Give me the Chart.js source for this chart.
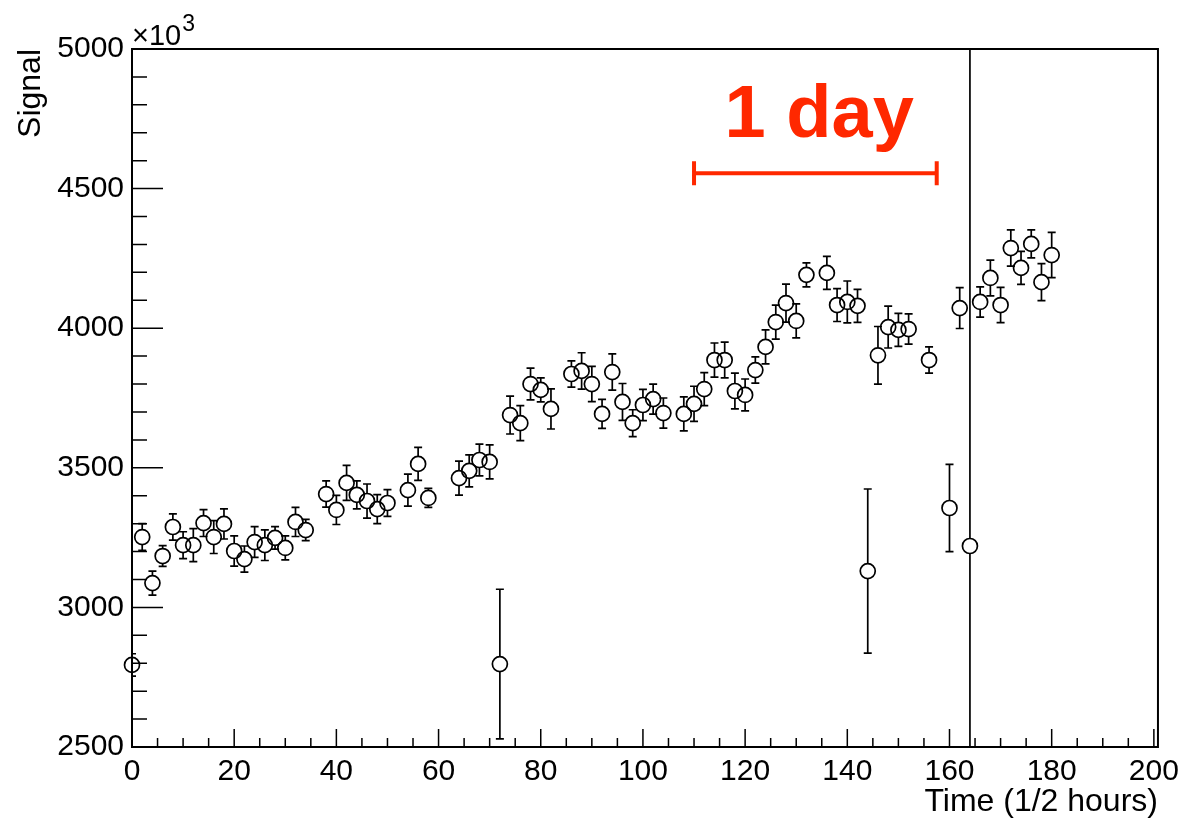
<!DOCTYPE html>
<html>
<head>
<meta charset="utf-8">
<script src="https://cdn.jsdelivr.net/npm/chart.js@4.4.1/dist/chart.umd.min.js"></script>
<style>
  html, body { margin: 0; padding: 0; background: #fff; overflow: hidden; }
  #wrap { width: 1186px; height: 823px; position: relative; }
</style>
</head>
<body>
<div id="wrap"><canvas id="signalChart"></canvas></div>
<script>
// time bins (1/2 hours)
const timeBins = [0, 2, 4, 6, 8, 10, 12, 14, 16, 18, 20, 22, 24, 26, 28, 30, 32, 34,
  38, 40, 42, 44, 46, 48, 50, 54, 56, 58, 64, 66, 68, 70, 72, 74, 76, 78, 80, 82,
  86, 88, 90, 92, 94, 96, 98, 100, 102, 104, 108, 110, 112, 114, 116, 118, 120, 122,
  124, 126, 128, 130, 132, 136, 138, 140, 142, 144, 146, 148, 150, 152, 156, 160,
  162, 164, 166, 168, 170, 172, 174, 176, 178, 180];

// signal (x10^3)
const signalValues = [2794, 3252, 3087, 3184, 3288, 3223, 3223, 3302, 3252, 3299, 3202, 3173, 3234, 3223, 3249, 3213, 3306, 3277,
  3406, 3349, 3446, 3403, 3381, 3352, 3374, 3420, 3514, 3392, 3463, 3489, 3528, 3521, 2797, 3689, 3660, 3800, 3779, 3711,
  3836, 3847, 3800, 3693, 3843, 3736, 3660, 3725, 3746, 3696, 3693, 3729, 3782, 3886, 3886, 3775, 3761, 3850,
  3933, 4022, 4090, 4026, 4191, 4198, 4083, 4094, 4080, 3130, 3903, 4004, 3994, 3997, 3886, 3356,
  4072, 3220, 4094, 4180, 4083, 4287, 4216, 4302, 4165, 4262];

// symmetric errors on the signal
const signalErrors = [40, 48, 43, 37, 47, 48, 59, 48, 59, 54, 54, 47, 55, 55, 40, 43, 52, 38,
  47, 52, 63, 50, 61, 52, 48, 57, 59, 34, 61, 57, 57, 61, 268, 68, 63, 57, 43, 72,
  47, 65, 63, 52, 65, 66, 48, 56, 54, 54, 61, 63, 59, 61, 64, 64, 57, 47,
  61, 61, 68, 61, 43, 59, 59, 75, 59, 294, 103, 75, 59, 54, 47, 156,
  73, 3000, 54, 64, 63, 65, 59, 50, 66, 81];

const xTicks = [0, 20, 40, 60, 80, 100, 120, 140, 160, 180, 200];
const yTicks = [2500, 3000, 3500, 4000, 4500, 5000];
const xMinorStep = 5;
const yMinorStep = 100;

// "1 day" marker: 48 half-hour bins
const dayBarStart = 110;
const dayBarEnd = 157.5;
const dayBarLevel = 4555;
const dayLabel = '1 day';
const dayLabelX = 134.5;
const dayLabelY = 4685;

const red = 'rgb(255, 40, 0)';
const fontFamily = '"Liberation Sans", Arial, Helvetica, sans-serif';

const points = timeBins.map((t, i) => ({ x: t, y: signalValues[i], err: signalErrors[i] }));

const rootStyle = {
  id: 'rootStyle',
  beforeDatasetsDraw(chart) {
    // error bars, stopping at the marker edge
    const { ctx, chartArea: a, scales: { x, y } } = chart;
    const r = 7.5, cap = 4;
    ctx.save();
    ctx.beginPath();
    ctx.rect(a.left, a.top, a.right - a.left, a.bottom - a.top);
    ctx.clip();
    ctx.strokeStyle = '#000';
    ctx.lineWidth = 1.7;
    points.forEach(p => {
      const px = x.getPixelForValue(p.x);
      const py = y.getPixelForValue(p.y);
      const hi = y.getPixelForValue(p.y + p.err);
      const lo = y.getPixelForValue(p.y - p.err);
      ctx.beginPath();
      if (py - hi > r) {
        ctx.moveTo(px, py - r); ctx.lineTo(px, hi);
        ctx.moveTo(px - cap, hi); ctx.lineTo(px + cap, hi);
      }
      if (lo - py > r) {
        ctx.moveTo(px, py + r); ctx.lineTo(px, lo);
        ctx.moveTo(px - cap, lo); ctx.lineTo(px + cap, lo);
      }
      ctx.stroke();
    });
    ctx.restore();
  },
  afterDraw(chart) {
    const { ctx, chartArea: a, scales: { x, y } } = chart;
    ctx.save();
    ctx.strokeStyle = '#000';

    // inward tick marks
    ctx.lineWidth = 1.5;
    ctx.beginPath();
    for (let v = y.min; v <= y.max + 0.01; v += yMinorStep) {
      const py = y.getPixelForValue(v);
      const len = yTicks.includes(v) ? 31 : 15;
      ctx.moveTo(a.left, py); ctx.lineTo(a.left + len, py);
    }
    for (let v = 0; v <= 200; v += xMinorStep) {
      const px = x.getPixelForValue(v);
      const len = xTicks.includes(v) ? 18 : 9;
      ctx.moveTo(px, a.bottom); ctx.lineTo(px, a.bottom - len);
    }
    ctx.stroke();

    // frame
    ctx.lineWidth = 2;
    ctx.strokeRect(a.left, a.top, a.right - a.left, a.bottom - a.top);

    // exponent label
    ctx.fillStyle = '#000';
    ctx.textBaseline = 'alphabetic';
    ctx.textAlign = 'left';
    ctx.font = '29px ' + fontFamily;
    ctx.fillText('\u00d710', a.left, 45);
    const w = ctx.measureText('\u00d710').width;
    ctx.font = '23px ' + fontFamily;
    ctx.fillText('3', a.left + w + 1, 31);

    // 1 day marker
    const x1 = x.getPixelForValue(dayBarStart);
    const x2 = x.getPixelForValue(dayBarEnd);
    const yb = y.getPixelForValue(dayBarLevel);
    ctx.strokeStyle = red;
    ctx.lineWidth = 4;
    ctx.beginPath();
    ctx.moveTo(x1, yb); ctx.lineTo(x2, yb);
    ctx.moveTo(x1, yb - 12); ctx.lineTo(x1, yb + 12);
    ctx.moveTo(x2, yb - 12); ctx.lineTo(x2, yb + 12);
    ctx.stroke();
    ctx.fillStyle = red;
    ctx.textAlign = 'center';
    ctx.font = 'bold 74px ' + fontFamily;
    ctx.fillText(dayLabel, x.getPixelForValue(dayLabelX), y.getPixelForValue(dayLabelY));
    ctx.restore();
  }
};

Chart.defaults.font.family = fontFamily;
Chart.defaults.color = '#000';

new Chart(document.getElementById('signalChart'), {
  type: 'scatter',
  data: {
    datasets: [{
      label: 'Signal',
      data: points,
      pointStyle: 'circle',
      pointRadius: 7.5,
      pointHoverRadius: 7.5,
      borderColor: '#000',
      backgroundColor: 'rgba(0,0,0,0)',
      pointBorderWidth: 1.7,
      clip: false
    }]
  },
  options: {
    responsive: true,
    maintainAspectRatio: false,
    animation: false,
    layout: { padding: { top: 49, right: 26, left: 0, bottom: 0 } },
    plugins: {
      legend: { display: false },
      tooltip: { enabled: false }
    },
    scales: {
      x: {
        type: 'linear',
        min: 0,
        max: 200.8,
        afterBuildTicks: s => { s.ticks = xTicks.map(v => ({ value: v })); },
        afterFit: s => { s.height = 76; },
        grid: { display: false, drawTicks: false },
        border: { display: false },
        ticks: { autoSkip: false, maxRotation: 0, minRotation: 0, padding: 7, font: { size: 30 }, callback: v => String(v) },
        title: { display: true, text: 'Time (1/2 hours)', align: 'end', font: { size: 32 }, padding: { top: 0, bottom: 2 } }
      },
      y: {
        type: 'linear',
        min: 2500,
        max: 5000,
        afterBuildTicks: s => { s.ticks = yTicks.map(v => ({ value: v })); },
        afterFit: s => { s.width = 132; },
        grid: { display: false, drawTicks: false },
        border: { display: false },
        ticks: { padding: 8, font: { size: 30 }, callback: v => String(v) },
        title: { display: true, text: 'Signal', align: 'end', font: { size: 32 }, padding: { top: 12, bottom: 0 } }
      }
    }
  },
  plugins: [rootStyle]
});
</script>
</body>
</html>
